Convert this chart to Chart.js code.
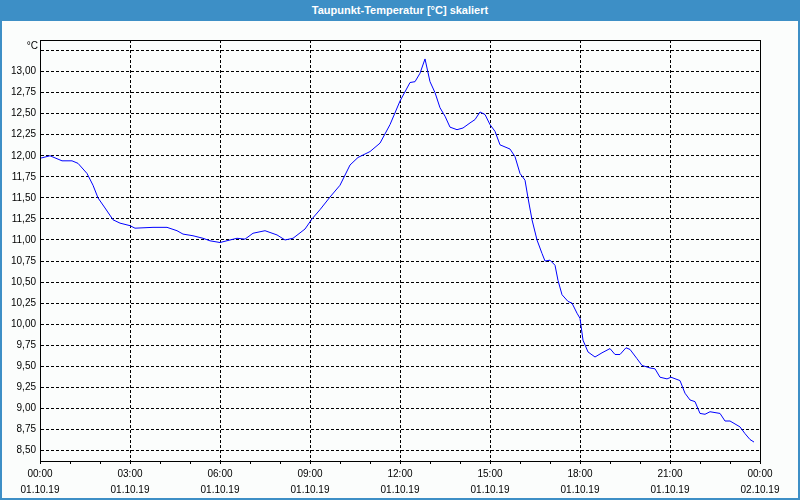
<!DOCTYPE html>
<html>
<head>
<meta charset="utf-8">
<script src="https://cdn.jsdelivr.net/npm/chart.js@4"></script>
<style>
  body { margin: 0; background: #fbfdfc; }
  #frame {
    position: absolute; left: 0; top: 0; width: 800px; height: 500px;
    box-sizing: border-box; border: 2px solid #3d8fc6; border-top: none;
    background: #fbfdfc;
  }
  #title {
    height: 21px; margin: 0 -2px; background: #3d8fc6; color: #fff;
    font: bold 11px "Liberation Sans", sans-serif; line-height: 20px; text-align: center;
  }
  #plot { position: relative; width: 796px; height: 477px; }
</style>
</head>
<body>
<div id="frame">
  <div id="title">Taupunkt-Temperatur [°C] skaliert</div>
  <div id="plot"><canvas id="chart"></canvas></div>
</div>
<script>
// minutes since 01.10.19 00:00
var times = [0, 20, 44, 64, 76, 94, 106, 116, 130, 146, 160, 180, 190, 226, 254, 274, 286, 306, 326, 340,
  360, 380, 394, 410, 426, 450, 474, 490, 506, 530, 544, 560, 580, 600, 620, 636, 660, 680, 700, 720,
  740, 750, 760, 770, 780, 790, 800, 810, 820, 834, 846, 860, 870, 880, 890, 900, 910, 920, 940, 950,
  960, 970, 976, 984, 994, 1004, 1010, 1020, 1030, 1036, 1044, 1056, 1064, 1074, 1080, 1086, 1096, 1110, 1124, 1140,
  1150, 1160, 1172, 1180, 1194, 1204, 1220, 1230, 1240, 1254, 1262, 1280, 1290, 1300, 1310, 1320, 1330, 1340, 1360, 1370,
  1380, 1400, 1410, 1420, 1428];
var dewPoint = [11.97, 12.00, 11.94, 11.94, 11.91, 11.79, 11.65, 11.50, 11.38, 11.24, 11.20, 11.17, 11.14, 11.15, 11.15, 11.11, 11.07, 11.05, 11.02, 10.99,
  10.97, 11.00, 11.02, 11.01, 11.08, 11.11, 11.06, 11.00, 11.02, 11.13, 11.25, 11.36, 11.51, 11.65, 11.89, 11.98, 12.05, 12.15, 12.37, 12.65,
  12.87, 12.88, 12.98, 13.15, 12.88, 12.75, 12.57, 12.47, 12.34, 12.31, 12.33, 12.39, 12.43, 12.52, 12.49, 12.37, 12.29, 12.13, 12.08, 11.99,
  11.79, 11.71, 11.50, 11.24, 11.00, 10.84, 10.75, 10.76, 10.70, 10.52, 10.35, 10.27, 10.25, 10.13, 10.07, 9.81, 9.67, 9.61, 9.66, 9.71,
  9.64, 9.64, 9.72, 9.70, 9.59, 9.51, 9.48, 9.47, 9.37, 9.35, 9.37, 9.33, 9.18, 9.10, 9.08, 8.94, 8.93, 8.96, 8.94, 8.85,
  8.85, 8.78, 8.70, 8.63, 8.60];
var yTicks = [8.5, 8.75, 9, 9.25, 9.5, 9.75, 10, 10.25, 10.5, 10.75, 11, 11.25, 11.5, 11.75, 12, 12.25, 12.5, 12.75, 13, 13.25];
var xLabels = {0: ['00:00', '01.10.19'], 180: ['03:00', '01.10.19'], 360: ['06:00', '01.10.19'], 540: ['09:00', '01.10.19'],
  720: ['12:00', '01.10.19'], 900: ['15:00', '01.10.19'], 1080: ['18:00', '01.10.19'], 1260: ['21:00', '01.10.19'],
  1440: ['00:00', '02.10.19']};
var unitLabel = '°C';

var font = {family: 'Liberation Sans', size: 10, lineHeight: 1.6};
var points = times.map(function(t, i) { return {x: t, y: dewPoint[i]}; });

var framePlugin = {
  id: 'frame',
  afterDraw: function(chart) {
    var ctx = chart.ctx, a = chart.chartArea;
    ctx.save();
    ctx.strokeStyle = '#000';
    ctx.lineWidth = 1;
    ctx.strokeRect(Math.round(a.left) + 0.5, Math.round(a.top) + 0.5,
      Math.round(a.right - a.left), Math.round(a.bottom - a.top));
    ctx.fillStyle = '#000';
    ctx.font = '10px "Liberation Sans"';
    ctx.textAlign = 'right';
    ctx.textBaseline = 'middle';
    ctx.fillText(unitLabel, a.left - 2, a.top + 6);
    ctx.restore();
  }
};

new Chart(document.getElementById('chart'), {
  type: 'line',
  data: {
    datasets: [{
      data: points,
      borderColor: '#0000ff',
      borderWidth: 1,
      pointRadius: 0,
      tension: 0,
      fill: false
    }]
  },
  options: {
    responsive: true,
    maintainAspectRatio: false,
    animation: false,
    layout: {padding: {top: 19, right: 38, left: 0, bottom: 0}},
    plugins: {legend: {display: false}, tooltip: {enabled: false}},
    scales: {
      x: {
        type: 'linear',
        min: 0,
        max: 1440,
        afterFit: function(s) { s.height = 37; },
        ticks: {
          stepSize: 60,
          autoSkip: false,
          maxRotation: 0,
          padding: 2,
          color: '#000',
          font: font,
          callback: function(v) { return xLabels[v] || ''; }
        },
        grid: {
          color: function(c) { return c.tick && c.tick.value % 180 === 0 ? '#000' : 'rgba(0,0,0,0)'; },
          tickColor: '#000',
          tickLength: 3
        },
        border: {color: '#000', dash: [3, 2]}
      },
      y: {
        min: 8.375,
        max: 13.375,
        afterFit: function(s) { s.width = 38; },
        afterBuildTicks: function(s) { s.ticks = yTicks.map(function(v) { return {value: v}; }); },
        ticks: {
          padding: 4,
          color: '#000',
          font: font,
          callback: function(v) { return v === 13.25 ? '' : v.toFixed(2).replace('.', ','); }
        },
        grid: {color: '#000', drawTicks: false},
        border: {color: '#000', dash: [3, 2]}
      }
    }
  },
  plugins: [framePlugin]
});
</script>
</body>
</html>
